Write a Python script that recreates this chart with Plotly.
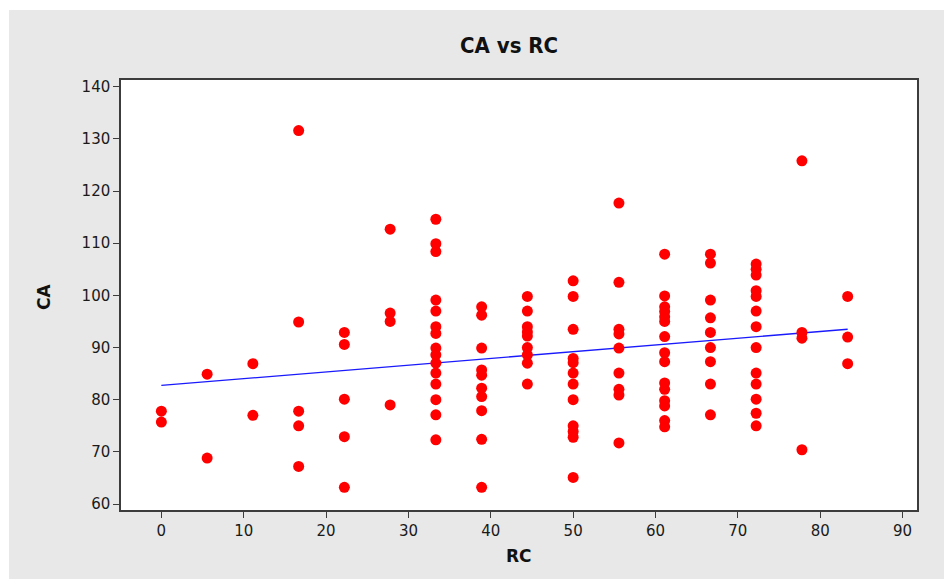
import numpy as np
import plotly.graph_objects as go

# RC / CA observations, listed column by column (RC takes steps of 100/18)
rc = (
    [0.0] * 2
    + [5.56] * 2
    + [11.11] * 2
    + [16.67] * 5
    + [22.22] * 5
    + [27.78] * 4
    + [33.33] * 15
    + [38.89] * 10
    + [44.44] * 9
    + [50.0] * 12
    + [55.56] * 9
    + [61.11] * 15
    + [66.67] * 9
    + [72.22] * 13
    + [77.78] * 4
    + [83.33] * 3
)

ca = [
    77.8, 75.7,
    84.9, 68.8,
    86.9, 77.0,
    131.6, 94.9, 77.8, 75.0, 67.2,
    92.9, 90.6, 80.1, 72.9, 63.2,
    112.7, 96.6, 95.0, 79.0,
    114.6, 109.9, 108.4, 99.1, 97.0, 94.0, 92.7, 89.9, 88.6, 87.0, 85.1, 83.0, 80.0, 77.1, 72.3,
    97.8, 96.2, 89.9, 85.7, 84.7, 82.2, 80.6, 77.9, 72.4, 63.2,
    99.8, 97.0, 94.0, 93.0, 92.2, 90.0, 88.6, 87.0, 83.0,
    102.8, 99.8, 93.5, 87.9, 87.1, 85.1, 83.0, 80.0, 75.0, 73.9, 72.8, 65.1,
    117.7, 102.5, 93.5, 92.6, 89.9, 85.1, 82.0, 80.9, 71.7,
    107.9, 99.9, 97.8, 96.9, 95.9, 95.0, 92.1, 89.0, 87.3, 83.2, 82.0, 79.8, 78.8, 76.0, 74.8,
    107.9, 106.2, 99.1, 95.7, 92.9, 90.0, 87.3, 83.0, 77.1,
    106.0, 105.0, 103.9, 100.9, 99.8, 97.0, 94.0, 90.0, 85.1, 83.0, 80.1, 77.4, 75.0,
    125.8, 92.9, 91.8, 70.4,
    99.8, 92.0, 86.9,
]

x_ticks = [0, 10, 20, 30, 40, 50, 60, 70, 80, 90]
y_ticks = [60, 70, 80, 90, 100, 110, 120, 130, 140]

# least-squares fit line across the observed RC span
slope, intercept = np.polyfit(rc, ca, 1)
fit_x = np.array([min(rc), max(rc)])
fit_y = intercept + slope * fit_x

W, H = 944, 580
ML, MR, MT, MB = 121, 27, 80, 70
PW, PH = W - ML - MR, H - MT - MB

def px_x(p):
    return (p - ML) / PW

def px_y(p):
    return (H - MB - p) / PH

fig = go.Figure()
fig.add_trace(go.Scatter(
    x=fit_x, y=fit_y, mode="lines",
    line=dict(color="#1a1aff", width=1.3),
    hoverinfo="skip", showlegend=False,
))
fig.add_trace(go.Scatter(
    x=rc, y=ca, mode="markers",
    marker=dict(color="#ff0000", size=11, symbol="circle", line=dict(width=0)),
    showlegend=False,
))

axis_common = dict(
    showgrid=False, zeroline=False,
    showline=True, linecolor="#3c3c3c", linewidth=1.5, mirror=True,
    ticks="outside", ticklen=6, tickwidth=1.3, tickcolor="#3c3c3c",
    tickfont=dict(family="DejaVu Sans", size=15, color="#1a1a1a"),
)

fig.update_layout(
    width=W, height=H,
    margin=dict(l=ML, r=MR, t=MT, b=MB, pad=0),
    paper_bgcolor="#e8e8e8",
    plot_bgcolor="#ffffff",
    xaxis=dict(range=[-4.9, 91.75], tickvals=x_ticks, **axis_common),
    yaxis=dict(range=[58.85, 141.3], tickvals=y_ticks, **axis_common),
    shapes=[
        # white strips framing the grey panel
        dict(type="rect", xref="paper", yref="paper", layer="below",
             x0=px_x(0), x1=px_x(W), y0=px_y(10), y1=px_y(-5),
             fillcolor="#ffffff", line=dict(width=0)),
        dict(type="rect", xref="paper", yref="paper", layer="below",
             x0=px_x(-5), x1=px_x(9), y0=px_y(H + 5), y1=px_y(0),
             fillcolor="#ffffff", line=dict(width=0)),
        dict(type="rect", xref="paper", yref="paper", layer="below",
             x0=px_x(0), x1=px_x(W), y0=px_y(H + 5), y1=px_y(579),
             fillcolor="#ffffff", line=dict(width=0)),
    ],
    annotations=[
        dict(text="<b>CA vs RC</b>", xref="paper", yref="paper",
             x=px_x(509), y=px_y(46), showarrow=False,
             xanchor="center", yanchor="middle",
             font=dict(family="DejaVu Sans Condensed, DejaVu Sans", size=22, color="#111111")),
        dict(text="<b>RC</b>", xref="paper", yref="paper",
             x=px_x(519), y=px_y(556), showarrow=False,
             xanchor="center", yanchor="middle",
             font=dict(family="DejaVu Sans", size=17, color="#111111")),
        dict(text="<b>CA</b>", xref="paper", yref="paper",
             x=px_x(44), y=px_y(297), showarrow=False, textangle=-90,
             xanchor="center", yanchor="middle",
             font=dict(family="DejaVu Sans", size=17, color="#111111")),
    ],
)

fig.write_html("out.html")
